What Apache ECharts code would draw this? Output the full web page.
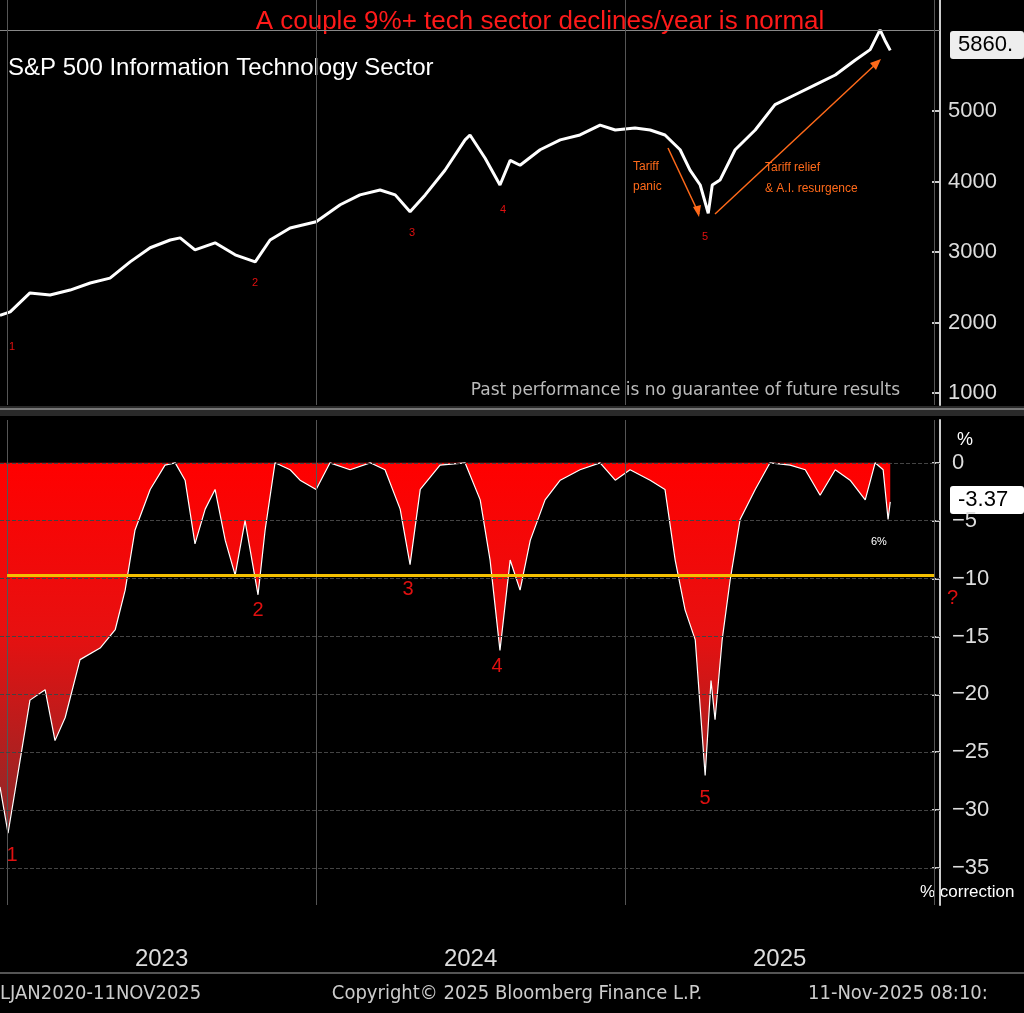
<!DOCTYPE html><html><head><meta charset="utf-8">
<script src="https://cdn.jsdelivr.net/npm/echarts@6/dist/echarts.min.js"></script>
<style>html,body{margin:0;background:#000}#c{width:1024px;height:1013px}</style></head><body><div id="c"></div>
<script>
const priceYears=[2022.977,2023.010,2023.074,2023.139,2023.204,2023.269,2023.333,2023.398,2023.463,2023.528,2023.560,2023.608,2023.673,2023.738,2023.803,2023.851,2023.916,2024.000,2024.078,2024.142,2024.207,2024.256,2024.304,2024.353,2024.417,2024.482,2024.498,2024.547,2024.595,2024.628,2024.660,2024.725,2024.790,2024.854,2024.919,2024.968,2025.032,2025.081,2025.129,2025.178,2025.210,2025.243,2025.269,2025.282,2025.307,2025.356,2025.421,2025.485,2025.550,2025.615,2025.680,2025.744,2025.793,2025.825,2025.841,2025.858];
const priceValues=[2100,2150,2420,2390,2460,2560,2630,2860,3060,3170,3200,3030,3130,2960,2860,3170,3340,3430,3670,3810,3880,3810,3570,3810,4160,4590,4660,4330,3950,4300,4230,4450,4590,4660,4800,4730,4760,4730,4660,4450,4160,3950,3550,3950,4020,4450,4730,5090,5230,5370,5510,5720,5870,6150,6000,5860];
const ddYears=[2022.977,2023.003,2023.042,2023.074,2023.123,2023.155,2023.188,2023.236,2023.301,2023.350,2023.382,2023.414,2023.463,2023.511,2023.544,2023.576,2023.608,2023.641,2023.673,2023.706,2023.738,2023.770,2023.812,2023.835,2023.867,2023.916,2023.948,2024.000,2024.045,2024.110,2024.175,2024.223,2024.272,2024.304,2024.337,2024.401,2024.482,2024.531,2024.563,2024.595,2024.628,2024.660,2024.693,2024.741,2024.790,2024.854,2024.919,2024.968,2025.016,2025.081,2025.129,2025.162,2025.194,2025.227,2025.259,2025.278,2025.291,2025.314,2025.340,2025.372,2025.421,2025.469,2025.534,2025.583,2025.631,2025.680,2025.728,2025.777,2025.809,2025.835,2025.851,2025.858];
const ddValues=[-28,-32,-25.7,-20.5,-19.6,-24,-22,-17,-16,-14.4,-11,-5.8,-2.3,-0.2,0,-1.5,-7,-4,-2.3,-6.7,-9.7,-5,-11.4,-5.8,0,-0.6,-1.5,-2.3,0,-0.6,0,-0.6,-4,-8.8,-2.3,-0.2,0,-3.2,-8.4,-16.2,-8.4,-11,-6.7,-3.2,-1.5,-0.6,0,-1.5,-0.6,-1.5,-2.3,-8.4,-12.7,-15.3,-27,-18.8,-22.2,-15.3,-10.1,-4.9,-2.3,0,-0.2,-0.6,-2.8,-0.6,-1.5,-3.2,0,-0.6,-4.9,-3.37];
const yearTicks=[2023.5,2024.5,2025.5];
const yearLines=[2023,2024,2025,2026];
const priceTicks=[1000,2000,3000,4000,5000];
const ddTicks=[0,-5,-10,-15,-20,-25,-30,-35];
const threshold=-9.7;

const ch=echarts.init(document.getElementById('c'));
const zip=(a,b)=>a.map((v,i)=>[v,b[i]]);
const gray='#555';
const vlines={silent:true,symbol:'none',label:{show:false},lineStyle:{color:gray,type:'solid',width:1},data:yearLines.map(y=>({xAxis:y}))};
const xBase={type:'value',min:2022.977,max:2026.019,splitLine:{show:false},axisTick:{show:false},axisLine:{show:false}};
ch.setOption({
 backgroundColor:'#000',animation:false,
 grid:[{left:0,width:940,top:0,height:405},{left:0,width:940,top:420,height:485}],
 xAxis:[{...xBase,gridIndex:0,axisLabel:{show:false}},
  {...xBase,gridIndex:1,axisLabel:{show:true,customValues:yearTicks,formatter:v=>''+Math.floor(v),color:'#ddd',fontSize:24,margin:42,fontFamily:'Liberation Sans'}}],
 yAxis:[{gridIndex:0,position:'right',min:830,max:6574,axisLine:{show:true,lineStyle:{color:'#ccc',width:2}},axisTick:{show:true,customValues:priceTicks,length:-8,lineStyle:{color:'#ccc',width:2}},axisLabel:{customValues:priceTicks,formatter:v=>''+v,color:'#ddd',fontSize:22,margin:8,fontFamily:'Liberation Sans'},splitLine:{show:false}},
  {gridIndex:1,position:'right',min:-38.2,max:3.7,axisLine:{show:true,lineStyle:{color:'#ccc',width:2}},axisTick:{show:true,customValues:ddTicks,length:-8,lineStyle:{color:'#ccc',width:2}},axisLabel:{customValues:ddTicks,formatter:v=>v<0?'\u2212'+(-v):''+v,color:'#ddd',fontSize:22,margin:12,fontFamily:'Liberation Sans'},splitLine:{show:false}}],
 series:[
  {type:'line',xAxisIndex:0,yAxisIndex:0,data:zip(priceYears,priceValues),symbol:'none',lineStyle:{color:'#fff',width:3},
   markLine:{silent:true,symbol:'none',label:{show:false},lineStyle:{color:'#888',type:'solid',width:1},data:[{yAxis:6150}]}},
  {type:'line',xAxisIndex:1,yAxisIndex:1,data:zip(ddYears,ddValues),symbol:'none',lineStyle:{color:'#fff',width:1.2},
   areaStyle:{opacity:1,color:new echarts.graphic.LinearGradient(0,0,0,1,[{offset:0,color:'#ff0000'},{offset:0.45,color:'#e81010'},{offset:1,color:'#8a2a2a'}])},
   markLine:{silent:true,symbol:'none',label:{show:false},data:[
     ...yearLines.map(y=>({xAxis:y,lineStyle:{color:gray,width:1,type:'solid'}})),
     ...ddTicks.map(t=>({yAxis:t,lineStyle:{color:'#444',width:1,type:'dashed'}})),
     [{coord:[2023,threshold],lineStyle:{color:'#f5c000',width:3,type:'solid'}},{coord:[2026,threshold]}]
   ]}},
  {type:'line',xAxisIndex:0,yAxisIndex:0,data:[],markLine:vlines}
 ],
 graphic:[
  {type:'rect',shape:{x:0,y:406,width:1024,height:10},style:{fill:'#2a2a2a'}},
  {type:'rect',shape:{x:0,y:408,width:1024,height:2},style:{fill:'#777'}},
  {type:'rect',shape:{x:0,y:972,width:1024,height:2},style:{fill:'#555'}},
  {type:'text',x:540,y:9,style:{text:'A couple 9%+ tech sector declines/year is normal',fill:'#ff1a1a',font:'26px Liberation Sans',align:'center'}},
  {type:'text',x:8,y:56,style:{text:'S&P 500 Information Technology Sector',fill:'#fff',font:'24px Liberation Sans'}},
  {type:'text',x:900,y:382,style:{text:'Past performance is no guarantee of future results',fill:'#bbb',font:'17px DejaVu Sans',align:'right'}},
  {type:'rect',shape:{x:950,y:31,width:74,height:28,r:3},style:{fill:'#eee'}},
  {type:'text',x:958,y:34,style:{text:'5860.',fill:'#000',font:'22px Liberation Sans'}},
  {type:'rect',shape:{x:950,y:486,width:74,height:28,r:3},style:{fill:'#fff'}},
  {type:'text',x:958,y:489,style:{text:'-3.37',fill:'#000',font:'22px Liberation Sans'}},
  {type:'text',x:957,y:431,style:{text:'%',fill:'#fff',font:'18px Liberation Sans'}},
  {type:'text',x:920,y:884,style:{text:'% correction',fill:'#fff',font:'17px Liberation Sans'}},
  {type:'text',x:947,y:588,style:{text:'?',fill:'#e01010',font:'20px Liberation Sans'}},
  {type:'text',x:871,y:536,style:{text:'6%',fill:'#fff',font:'11px Liberation Sans'}},
  ...[[12,347,'1'],[255,283,'2'],[412,233,'3'],[503,210,'4'],[705,237,'5']].map(a=>({type:'text',x:a[0],y:a[1],style:{text:a[2],fill:'#e01010',font:'11px Liberation Sans',align:'center',verticalAlign:'middle'}})),
  ...[[12,855,'1'],[258,610,'2'],[408,589,'3'],[497,666,'4'],[705,798,'5']].map(a=>({type:'text',x:a[0],y:a[1],style:{text:a[2],fill:'#e01010',font:'20px Liberation Sans',align:'center',verticalAlign:'middle'}})),
  {type:'text',x:633,y:157,style:{text:'Tariff\npanic',fill:'#ff6a1a',font:'12px Liberation Sans',lineHeight:20}},
  {type:'text',x:765,y:157,style:{text:'Tariff relief\n& A.I. resurgence',fill:'#ff6a1a',font:'12px Liberation Sans',lineHeight:21,align:'left'}},
  {type:'line',shape:{x1:668,y1:148,x2:699,y2:214},style:{stroke:'#ff6a1a',lineWidth:1.5}},
  {type:'polygon',shape:{points:[[699,217],[693,207],[701,205]]},style:{fill:'#ff6a1a'}},
  {type:'line',shape:{x1:715,y1:214,x2:878,y2:62},style:{stroke:'#ff6a1a',lineWidth:1.5}},
  {type:'polygon',shape:{points:[[881,59],[870,63],[876,70]]},style:{fill:'#ff6a1a'}},
  {type:'text',x:0,y:984,style:{text:'LJAN2020-11NOV2025',fill:'#ccc',font:'20px DejaVu Sans Condensed'}},
  {type:'text',x:517,y:984,style:{text:'Copyright\u00a9 2025 Bloomberg Finance L.P.',fill:'#ccc',font:'20px DejaVu Sans Condensed',align:'center'}},
  {type:'text',x:808,y:984,style:{text:'11-Nov-2025 08:10:',fill:'#ccc',font:'20px DejaVu Sans Condensed'}}
 ]
});
</script></body></html>
